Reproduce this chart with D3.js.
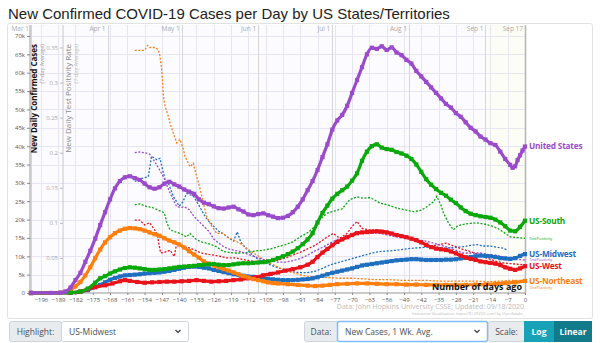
<!DOCTYPE html>
<html>
<head>
<meta charset="utf-8">
<script src="https://cdn.jsdelivr.net/npm/d3@7"></script>
<style>
  body { margin: 0; background: #fff; }
  svg { display: block; font-family: "Open Sans", sans-serif; }
</style>
</head>
<body>
<svg id="chart" width="600" height="343"></svg>
<script>
// ---------- data ----------
// daily new cases, 7-day average, in thousands: [days ago, value]
const usCases = [[-200,0.01],[-192,0.02],[-188,0.1],[-186,0.4],[-184,1.5],[-182,3.5],[-180,5.5],[-178,8.5],[-176,11.5],[-174,14.8],[-172,18.5],[-170,22],[-168,25.5],[-166,28.5],[-164,30.5],[-162,31.5],[-160,31.8],[-158,31.3],[-156,30.8],[-154,29.8],[-152,28.8],[-150,28.4],[-148,28.8],[-146,29.8],[-144,30.3],[-142,29.6],[-140,29],[-138,28.2],[-136,27.6],[-134,27],[-132,25.5],[-130,24.6],[-128,24.2],[-126,23.6],[-124,23.1],[-122,23],[-120,23.3],[-118,23.5],[-116,22.8],[-114,22.2],[-112,21.4],[-110,21.2],[-108,21.5],[-106,21.7],[-104,21.2],[-102,20.8],[-100,20.4],[-98,20.5],[-96,21],[-94,22],[-92,23.5],[-90,25.5],[-88,28],[-86,30.5],[-84,33.5],[-82,37],[-80,40.5],[-78,44.5],[-76,47],[-74,48.5],[-72,51],[-70,54.5],[-68,58],[-66,61.5],[-64,65],[-62,66.8],[-60,66.5],[-58,67.2],[-56,66.2],[-54,66.9],[-52,65.5],[-50,64.8],[-48,63.5],[-46,62.5],[-44,60.5],[-42,59],[-40,57.5],[-38,56],[-36,54.5],[-34,53],[-32,51.5],[-30,50.5],[-28,49],[-26,48],[-24,46.5],[-22,45],[-20,44],[-18,42.6],[-16,41.8],[-14,40.8],[-12,40.3],[-10,38.5],[-8,36.5],[-6,34.9],[-5,34.1],[-4,34.5],[-3,36.2],[-2,37.5],[-1,38.8],[0,39.9]];
const southCases = [[-200,0],[-184,0.1],[-180,0.4],[-177,1.2],[-174,2.8],[-172,4],[-170,4.6],[-168,5.3],[-166,5.9],[-164,6.4],[-162,6.8],[-160,7],[-158,6.9],[-156,6.7],[-154,6.5],[-152,6.3],[-150,6.3],[-148,6.4],[-146,6.5],[-144,6.7],[-142,6.9],[-140,7.1],[-138,7.2],[-136,7.3],[-134,7.4],[-132,7.6],[-130,7.7],[-128,7.8],[-126,7.9],[-124,7.7],[-122,7.6],[-120,7.6],[-118,7.8],[-116,8],[-114,8.1],[-112,8.1],[-110,8.2],[-108,8.3],[-106,8.4],[-104,8.6],[-102,9],[-100,9.5],[-98,10],[-96,10.6],[-94,11.3],[-92,12.2],[-90,13.3],[-88,14.6],[-86,16.3],[-84,19.2],[-82,21.8],[-80,23.8],[-78,25.7],[-76,27],[-74,28],[-72,29],[-70,30.6],[-68,32.6],[-66,36],[-64,38.5],[-62,40],[-60,40.5],[-58,39.6],[-56,39.2],[-54,39],[-52,38.4],[-50,38],[-48,37.4],[-46,36.5],[-44,35],[-42,33],[-40,31],[-38,29.5],[-36,28.3],[-34,27.3],[-32,26.5],[-30,25.4],[-28,24.5],[-26,23.3],[-24,22.3],[-22,21.6],[-20,21.2],[-18,20.9],[-16,20.7],[-14,20.5],[-12,20],[-10,19.2],[-8,18.2],[-6,17],[-4,16.8],[-2,18],[0,19.7]];
const midwestCases = [[-200,0],[-184,0.05],[-180,0.3],[-177,0.8],[-174,1.6],[-172,2.2],[-170,2.9],[-168,3.6],[-166,4.1],[-164,4.5],[-162,4.8],[-160,4.9],[-158,5],[-156,5.1],[-154,5.3],[-152,5.4],[-150,5.5],[-148,5.6],[-146,5.8],[-144,6],[-142,6.3],[-140,6.6],[-138,6.9],[-136,7.1],[-134,7.2],[-132,7.1],[-130,6.9],[-128,6.7],[-126,6.3],[-124,6],[-122,5.7],[-120,5.4],[-118,5.1],[-116,4.9],[-114,4.7],[-112,4.5],[-110,4.4],[-108,4.2],[-106,4],[-104,3.9],[-102,3.7],[-100,3.6],[-98,3.5],[-96,3.5],[-94,3.5],[-92,3.6],[-90,3.7],[-88,3.8],[-86,4],[-84,4.3],[-82,4.7],[-80,5.1],[-78,5.5],[-76,5.8],[-74,6.1],[-72,6.4],[-70,6.7],[-68,7.1],[-66,7.5],[-64,7.7],[-62,7.9],[-60,8.1],[-58,8.3],[-56,8.5],[-54,8.7],[-52,8.9],[-50,9],[-48,9.1],[-46,9.2],[-44,9.2],[-42,9.1],[-40,9],[-38,9],[-36,9],[-34,9],[-32,9.1],[-30,9.1],[-28,9.2],[-26,9.4],[-24,9.6],[-22,9.8],[-20,10],[-18,10.2],[-16,10.1],[-14,10],[-12,9.8],[-10,9.5],[-8,9.4],[-6,9.3],[-4,9.5],[-2,10.1],[0,10.6]];
const westCases = [[-200,0],[-184,0.1],[-180,0.4],[-177,1],[-174,1.6],[-170,2.1],[-167,2.6],[-164,3.2],[-162,3.5],[-160,3.3],[-157,3],[-154,2.8],[-151,2.9],[-148,3],[-145,3.1],[-142,3.1],[-139,3.2],[-136,3.3],[-133,3.5],[-130,3.3],[-127,3.1],[-124,3.2],[-121,3.3],[-118,3.5],[-115,3.7],[-112,4],[-109,4.3],[-106,4.8],[-103,5.2],[-100,5.6],[-97,6.1],[-94,6.5],[-91,7],[-88,7.7],[-86,8.5],[-84,9.8],[-82,11],[-80,12],[-78,13],[-76,13.9],[-74,14.6],[-72,15.2],[-70,15.8],[-68,16.3],[-66,16.5],[-64,16.6],[-62,16.7],[-60,16.8],[-58,16.7],[-56,16.5],[-54,16.2],[-52,15.8],[-50,15.5],[-48,15.2],[-46,14.8],[-44,14.4],[-42,13.8],[-40,13.1],[-38,12.5],[-36,12.1],[-34,11.9],[-32,11.7],[-30,11.3],[-28,10.8],[-26,10.2],[-24,9.7],[-22,9.3],[-20,9],[-18,8.6],[-16,8.4],[-14,8.2],[-12,8],[-10,7.6],[-8,7],[-6,6.6],[-4,6.3],[-2,6.7],[0,7.3]];
const northeastCases = [[-200,0],[-188,0.1],[-186,0.3],[-184,0.8],[-182,1.8],[-180,3],[-178,4.8],[-176,7],[-174,9.5],[-172,11.8],[-170,13.8],[-168,15.2],[-166,16.3],[-164,17],[-162,17.5],[-160,17.7],[-158,17.6],[-156,17.4],[-154,17],[-152,16.5],[-150,16],[-148,15.6],[-146,14.9],[-144,14.3],[-142,13.8],[-140,13.2],[-138,12.4],[-136,11.4],[-134,10.5],[-132,9.6],[-130,8.6],[-128,8],[-126,7.5],[-124,7],[-122,6.5],[-120,6.1],[-118,5.6],[-116,5.1],[-114,4.6],[-112,4.2],[-110,3.8],[-108,3.5],[-106,3.2],[-104,2.9],[-102,2.7],[-100,2.6],[-96,2.4],[-92,2.2],[-88,2],[-85,1.9],[-82,2],[-79,2.2],[-76,2.4],[-72,2.5],[-68,2.6],[-64,2.6],[-60,2.5],[-56,2.4],[-52,2.4],[-48,2.3],[-44,2.3],[-40,2.2],[-36,2.2],[-32,2.2],[-28,2.2],[-24,2.2],[-20,2.3],[-16,2.3],[-12,2.5],[-8,2.7],[-4,2.9],[0,3.3]];

// test positivity rate, 7-day average: [days ago, rate]
const usPos = [[-158,0.2],[-156,0.201],[-154,0.2],[-152,0.198],[-150.5,0.19],[-149,0.182],[-148,0.176],[-146,0.163],[-144,0.145],[-142,0.13],[-141,0.123],[-139,0.122],[-138,0.123],[-136,0.119],[-134,0.109],[-132,0.102],[-130,0.095],[-128,0.088],[-126,0.077],[-124,0.071],[-122,0.066],[-120,0.063],[-118,0.061],[-115,0.059],[-112,0.055],[-109,0.051],[-106,0.048],[-103,0.046],[-100,0.044],[-97,0.044],[-94,0.046],[-91,0.049],[-88,0.054],[-85,0.06],[-82,0.065],[-79,0.071],[-76,0.076],[-73,0.08],[-70,0.084],[-68,0.087],[-65,0.087],[-62,0.086],[-59,0.085],[-56,0.083],[-52,0.08],[-48,0.078],[-44,0.076],[-40,0.074],[-37,0.071],[-34,0.068],[-31,0.065],[-28,0.061],[-25,0.057],[-22,0.057],[-18,0.057],[-15,0.055],[-12,0.054],[-9,0.052],[-6,0.05],[-3,0.048],[0,0.047]];
const southPos = [[-158,0.126],[-156,0.127],[-153,0.123],[-151,0.122],[-149,0.119],[-147,0.116],[-146,0.114],[-145,0.1],[-143.7,0.09],[-141.5,0.087],[-139.7,0.085],[-137,0.08],[-135.6,0.085],[-133,0.076],[-131,0.073],[-129,0.071],[-127,0.069],[-125,0.066],[-122,0.059],[-118,0.057],[-115,0.057],[-112,0.058],[-109,0.06],[-106,0.061],[-103,0.063],[-100,0.066],[-97,0.069],[-94,0.073],[-91,0.08],[-88,0.086],[-85,0.095],[-83,0.105],[-80,0.114],[-77,0.117],[-74,0.12],[-71,0.133],[-68,0.137],[-65.5,0.135],[-63,0.136],[-61,0.133],[-58.7,0.128],[-55,0.125],[-52,0.121],[-48,0.118],[-45,0.116],[-42,0.118],[-39.8,0.123],[-37,0.13],[-35.7,0.138],[-34,0.125],[-33,0.114],[-31,0.1],[-29,0.09],[-27.5,0.095],[-26,0.097],[-23,0.099],[-19.6,0.1],[-16,0.098],[-13,0.095],[-11,0.092],[-8,0.085],[-6,0.08],[-3,0.079],[0,0.078]];
const midwestPos = [[-158,0.159],[-156,0.162],[-154.5,0.164],[-152.5,0.166],[-151.2,0.195],[-149,0.19],[-147.8,0.192],[-147,0.18],[-145.7,0.161],[-144.4,0.157],[-142.4,0.138],[-140,0.124],[-138.5,0.13],[-137,0.142],[-135.5,0.14],[-134,0.137],[-132,0.125],[-130,0.112],[-128.5,0.104],[-126,0.095],[-124,0.088],[-122,0.084],[-120.5,0.08],[-118,0.074],[-116.5,0.087],[-115,0.072],[-112,0.06],[-109,0.05],[-106,0.044],[-103,0.04],[-100,0.036],[-97,0.033],[-94,0.03],[-91,0.029],[-88,0.029],[-85,0.031],[-82,0.035],[-79,0.04],[-76,0.043],[-72,0.047],[-69,0.05],[-65,0.054],[-62,0.057],[-59,0.059],[-55,0.06],[-52,0.061],[-48,0.063],[-45,0.064],[-41,0.065],[-38,0.066],[-35,0.065],[-32,0.064],[-28,0.065],[-25,0.066],[-22,0.068],[-19.5,0.069],[-17,0.067],[-14,0.067],[-11,0.065],[-9,0.064],[-7,0.061]];
const westPos = [[-158,0.104],[-156,0.104],[-154,0.097],[-152,0.1],[-150.5,0.093],[-149,0.085],[-148,0.066],[-147.5,0.057],[-146,0.058],[-143.7,0.061],[-142,0.052],[-141,0.071],[-139,0.066],[-137,0.065],[-135.6,0.064],[-133,0.06],[-131,0.057],[-128,0.055],[-126,0.054],[-123,0.052],[-121,0.05],[-117,0.05],[-113,0.047],[-110,0.045],[-107,0.045],[-104,0.045],[-100,0.047],[-97,0.05],[-94,0.054],[-91,0.058],[-88,0.063],[-85,0.068],[-82,0.075],[-80,0.08],[-77.6,0.085],[-75,0.078],[-72,0.085],[-70,0.095],[-68,0.102],[-66,0.092],[-63,0.09],[-59,0.09],[-56,0.088],[-52,0.083],[-48,0.079],[-44,0.073],[-41,0.07],[-38.5,0.066],[-35,0.069],[-32,0.071],[-28,0.066],[-25,0.062],[-22,0.059],[-19,0.055],[-17,0.052],[-14,0.048],[-11.5,0.045],[-9,0.043],[-6,0.042],[-3,0.041],[0,0.04]];
const northeastPos = [[-158,0.346],[-156,0.346],[-154,0.346],[-152.8,0.353],[-151.8,0.35],[-149.8,0.35],[-148.5,0.347],[-147.8,0.338],[-147.1,0.319],[-146.7,0.3],[-146.4,0.28],[-145.7,0.266],[-144.4,0.252],[-143.7,0.242],[-142.4,0.228],[-141,0.214],[-139.7,0.219],[-138.3,0.205],[-137.7,0.195],[-135.6,0.18],[-134.3,0.185],[-132.9,0.166],[-131.6,0.149],[-130.2,0.128],[-128.9,0.109],[-126.8,0.095],[-124.8,0.085],[-122.1,0.085],[-120.8,0.08],[-118.1,0.076],[-115,0.07],[-112,0.062],[-109,0.055],[-106,0.048],[-103,0.042],[-100,0.037],[-97,0.032],[-94,0.029],[-91,0.026],[-88,0.024],[-85,0.023],[-80,0.022],[-75,0.021],[-70,0.021],[-65,0.02],[-60,0.019],[-55,0.019],[-50,0.018],[-45,0.018],[-40,0.018],[-35,0.017],[-30,0.017],[-25,0.017],[-20,0.017],[-15,0.016],[-10,0.017],[-5,0.018],[0,0.018]];

// axis ticks and labels
const caseTicks = [0, 5, 10, 15, 20, 25, 30, 35, 40, 45, 50, 55, 60, 65, 70];
const posTicks = [0, 0.05, 0.1, 0.15, 0.2, 0.25, 0.3, 0.35];
const dayTicks = d3.range(-196, 1, 7);
const monthLabels = ["Mar 1", "Apr 1", "May 1", "Jun 1", "Jul 1", "Aug 1", "Sep 1", "Sep 17"];
const monthDays = [-200, -169, -139, -108, -78, -47, -16, 0];

const regionNames = ["US-Midwest", "US-West", "US-Northeast", "US-South", "United States"];
const regionColors = ["#1f6fc0", "#e8131b", "#ff7f0e", "#0aa80a", "#9a4bcb"];
const regionCases = [midwestCases, westCases, northeastCases, southCases, usCases];
const regionPos = [midwestPos, westPos, northeastPos, southPos, usPos];
const posLabelShown = [false, false, true, true, true];

// ---------- layout ----------
const svg = d3.select("#chart");
const plot = { left: 30, right: 525, top: 25, bottom: 293 };

const x = d3.scaleLinear().domain([-200, 0]).range([31, 525]);
const y = d3.scaleLinear().domain([0, 70]).range([293, 36]);
const yPos = d3.scaleLinear().domain([0, 0.35]).range([293, 47.5]);

// title
svg.append("text")
  .attr("x", 8).attr("y", 19)
  .style("font-family", "'Liberation Sans', Arial, sans-serif")
  .style("font-size", "15px").attr("fill", "#222")
  .text("New Confirmed COVID-19 Cases per Day by US States/Territories");

// frame around the chart
svg.append("rect")
  .attr("x", 7.5).attr("y", 23.5).attr("width", 585).attr("height", 295)
  .attr("rx", 2).attr("fill", "#fff").attr("stroke", "#e2e2e2");

// plot background
svg.append("rect")
  .attr("x", plot.left).attr("y", plot.top)
  .attr("width", plot.right - plot.left).attr("height", plot.bottom - plot.top)
  .attr("fill", "#fcfbff");
svg.append("rect")
  .attr("x", x(-16)).attr("y", plot.top)
  .attr("width", x(0) - x(-16)).attr("height", plot.bottom - plot.top)
  .attr("fill", "#fcfdf4");

// grid
const grid = svg.append("g").attr("stroke", "#e7e4f4").attr("stroke-width", 1);
grid.selectAll("line.h").data(caseTicks.slice(1)).join("line")
  .attr("x1", plot.left).attr("x2", plot.right)
  .attr("y1", d => Math.round(y(d)) + 0.5).attr("y2", d => Math.round(y(d)) + 0.5);
grid.selectAll("line.v").data(dayTicks).join("line")
  .attr("y1", plot.top).attr("y2", plot.bottom)
  .attr("x1", d => Math.round(x(d)) + 0.5).attr("x2", d => Math.round(x(d)) + 0.5);

// month markers
const months = svg.append("g");
months.selectAll("line").data(monthDays).join("line")
  .attr("x1", d => Math.round(x(d)) + 0.5).attr("x2", d => Math.round(x(d)) + 0.5)
  .attr("y1", plot.top).attr("y2", plot.bottom)
  .attr("stroke", (d, i) => i === monthDays.length - 1 ? "#b5b5b5" : "#d6d6d6")
  .attr("stroke-width", (d, i) => i === monthDays.length - 1 ? 1.5 : 1);
months.selectAll("text").data(monthDays).join("text")
  .attr("x", d => x(d) - 2).attr("y", 31)
  .attr("text-anchor", "end").attr("fill", "#aaa")
  .style("font-size", "6.5px")
  .text((d, i) => monthLabels[i]);

// case axis (left)
const yAxis = svg.append("g").attr("transform", `translate(${plot.left},0)`)
  .call(d3.axisLeft(y).tickValues(caseTicks).tickSize(3).tickPadding(2)
    .tickFormat(d => d === 0 ? "0" : d + "k"));
yAxis.select(".domain").attr("stroke", "#999").attr("d", `M0,${plot.top}V${plot.bottom}`);
yAxis.selectAll(".tick line").attr("stroke", "#888");
yAxis.selectAll("text").attr("fill", "#555").style("font-size", "6px")
  .style("font-family", "'Open Sans', sans-serif");

// positivity axis
const pAxis = svg.append("g").attr("transform", "translate(63,0)")
  .call(d3.axisLeft(yPos).tickValues(posTicks).tickSize(3).tickPadding(2)
    .tickFormat(d => d === 0 ? "0" : String(+d.toFixed(2))));
pAxis.select(".domain").attr("stroke", "#c8c8c8").attr("d", `M0,${plot.top}V${plot.bottom}`);
pAxis.selectAll(".tick line").attr("stroke", "#bbb");
pAxis.selectAll("text").attr("fill", "#aaa").style("font-size", "6px")
  .style("font-family", "'Open Sans', sans-serif");

// axis titles
svg.append("text")
  .attr("transform", "translate(37,44) rotate(-90)")
  .attr("text-anchor", "end").attr("fill", "#111")
  .style("font-size", "8px").style("font-weight", "bold")
  .text("New Daily Confirmed Cases");
svg.append("text")
  .attr("transform", "translate(43.5,44) rotate(-90)")
  .attr("text-anchor", "end").attr("fill", "#999")
  .style("font-size", "5.5px")
  .text("(7-day Average)");
svg.append("text")
  .attr("transform", "translate(71,44) rotate(-90)")
  .attr("text-anchor", "end").attr("fill", "#8a8a8a")
  .style("font-size", "8px")
  .text("New Daily Test Positivity Rate");
svg.append("text")
  .attr("transform", "translate(77.5,44) rotate(-90)")
  .attr("text-anchor", "end").attr("fill", "#bbb")
  .style("font-size", "5.5px")
  .text("(7-day Average)");

// x axis
const xAxis = svg.append("g").attr("transform", `translate(0,${plot.bottom})`)
  .call(d3.axisBottom(x).tickValues(dayTicks).tickSize(2).tickPadding(3));
xAxis.select(".domain").attr("stroke", "#999").attr("d", `M${plot.left},0H${plot.right}`);
xAxis.selectAll(".tick line").attr("stroke", "#888");
xAxis.selectAll("text").attr("fill", "#555").style("font-size", "6px")
  .style("font-family", "'Open Sans', sans-serif");

// ---------- series ----------
const caseLine = d3.line().x(d => x(d[0])).y(d => y(d[1])).curve(d3.curveMonotoneX);
const posLine = d3.line().x(d => x(d[0])).y(d => yPos(d[1]));

const posG = svg.append("g");
regionPos.forEach((series, i) => {
  posG.append("path").datum(series)
    .attr("d", posLine).attr("fill", "none")
    .attr("stroke", regionColors[i]).attr("stroke-width", 1.3)
    .attr("stroke-dasharray", "2,1.6");
});

const caseG = svg.append("g");
regionCases.forEach((series, i) => {
  caseG.append("path").datum(series)
    .attr("d", caseLine).attr("fill", "none")
    .attr("stroke", regionColors[i]).attr("stroke-width", 3.2)
    .attr("stroke-linejoin", "round");
  caseG.append("g").selectAll("rect").data(series).join("rect")
    .attr("x", d => x(d[0]) - 2.1).attr("y", d => y(d[1]) - 2.1)
    .attr("width", 4.2).attr("height", 4.2)
    .attr("fill", regionColors[i]);
});

// ---------- end labels ----------
const labelG = svg.append("g").style("font-family", "'Open Sans', sans-serif");
const bigY = regionCases.map(s => y(s[s.length - 1][1]));
regionNames.forEach((name, i) => {
  labelG.append("text")
    .attr("x", 529).attr("y", bigY[i]).attr("dy", "0.35em")
    .attr("fill", regionColors[i])
    .style("font-size", "8.3px").style("font-weight", "bold")
    .style("letter-spacing", "-0.2px")
    .text(name);
});
regionPos.forEach((s, i) => {
  if (!posLabelShown[i]) return;
  let py = yPos(s[s.length - 1][1]);
  bigY.forEach(by => { if (Math.abs(py - by) < 4) py = by + 7; });
  labelG.append("text")
    .attr("x", 529).attr("y", py).attr("dy", "0.35em")
    .attr("fill", regionColors[i])
    .style("font-size", "3.8px")
    .text("TestPositivity");
});

// days-ago caption and credits
svg.append("text")
  .attr("x", 522).attr("y", 290).attr("text-anchor", "end")
  .attr("fill", "#111").style("font-size", "9px").style("font-weight", "bold")
  .text("Number of days ago");
svg.append("text")
  .attr("x", 524).attr("y", 309).attr("text-anchor", "end")
  .attr("fill", "#bbb").style("font-size", "7px")
  .text("Data: John Hopkins University CSSE; Updated: 09/18/2020");
svg.append("text")
  .attr("x", 524).attr("y", 314.5).attr("text-anchor", "end")
  .attr("fill", "#bbb").style("font-size", "3.8px")
  .text("Interactive Visualization: https://91-DIVOC.com/ by @profwade_");

// ---------- control bar ----------
const ctrl = svg.append("g").style("font-family", "'Open Sans', sans-serif").style("font-size", "8.5px");
function addon(x0, w, label) {
  ctrl.append("rect").attr("x", x0 + 0.5).attr("y", 321.5).attr("width", w).attr("height", 20)
    .attr("fill", "#e9ecef").attr("stroke", "#ced4da").attr("rx", 2);
  ctrl.append("text").attr("x", x0 + w / 2 + 0.5).attr("y", 334.5).attr("text-anchor", "middle")
    .attr("fill", "#495057").text(label);
}
function select(x0, w, label, focus) {
  ctrl.append("rect").attr("x", x0 + 0.5).attr("y", 321.5).attr("width", w).attr("height", 20)
    .attr("fill", "#fff").attr("stroke", focus ? "#80bdff" : "#ced4da")
    .attr("stroke-width", focus ? 1.5 : 1).attr("rx", 2);
  ctrl.append("text").attr("x", x0 + 8).attr("y", 334.5).attr("fill", "#495057").text(label);
  const cx = x0 + w - 10;
  ctrl.append("path").attr("d", `M${cx - 2.5},330L${cx},332.5L${cx + 2.5},330`)
    .attr("fill", "none").attr("stroke", "#343a40").attr("stroke-width", 1.2);
}
addon(9, 52, "Highlight:");
select(61, 127, "US-Midwest", false);
addon(304, 33, "Data:");
select(337, 150, "New Cases, 1 Wk. Avg.", true);
addon(488, 36, "Scale:");
ctrl.append("rect").attr("x", 524).attr("y", 321).attr("width", 30).attr("height", 21).attr("fill", "#17a2b8");
ctrl.append("text").attr("x", 539).attr("y", 334.5).attr("text-anchor", "middle")
  .attr("fill", "#fff").style("font-weight", "bold").text("Log");
ctrl.append("rect").attr("x", 554).attr("y", 321).attr("width", 38).attr("height", 21).attr("fill", "#117a8b");
ctrl.append("text").attr("x", 573).attr("y", 334.5).attr("text-anchor", "middle")
  .attr("fill", "#fff").style("font-weight", "bold").text("Linear");
</script>
</body>
</html>
